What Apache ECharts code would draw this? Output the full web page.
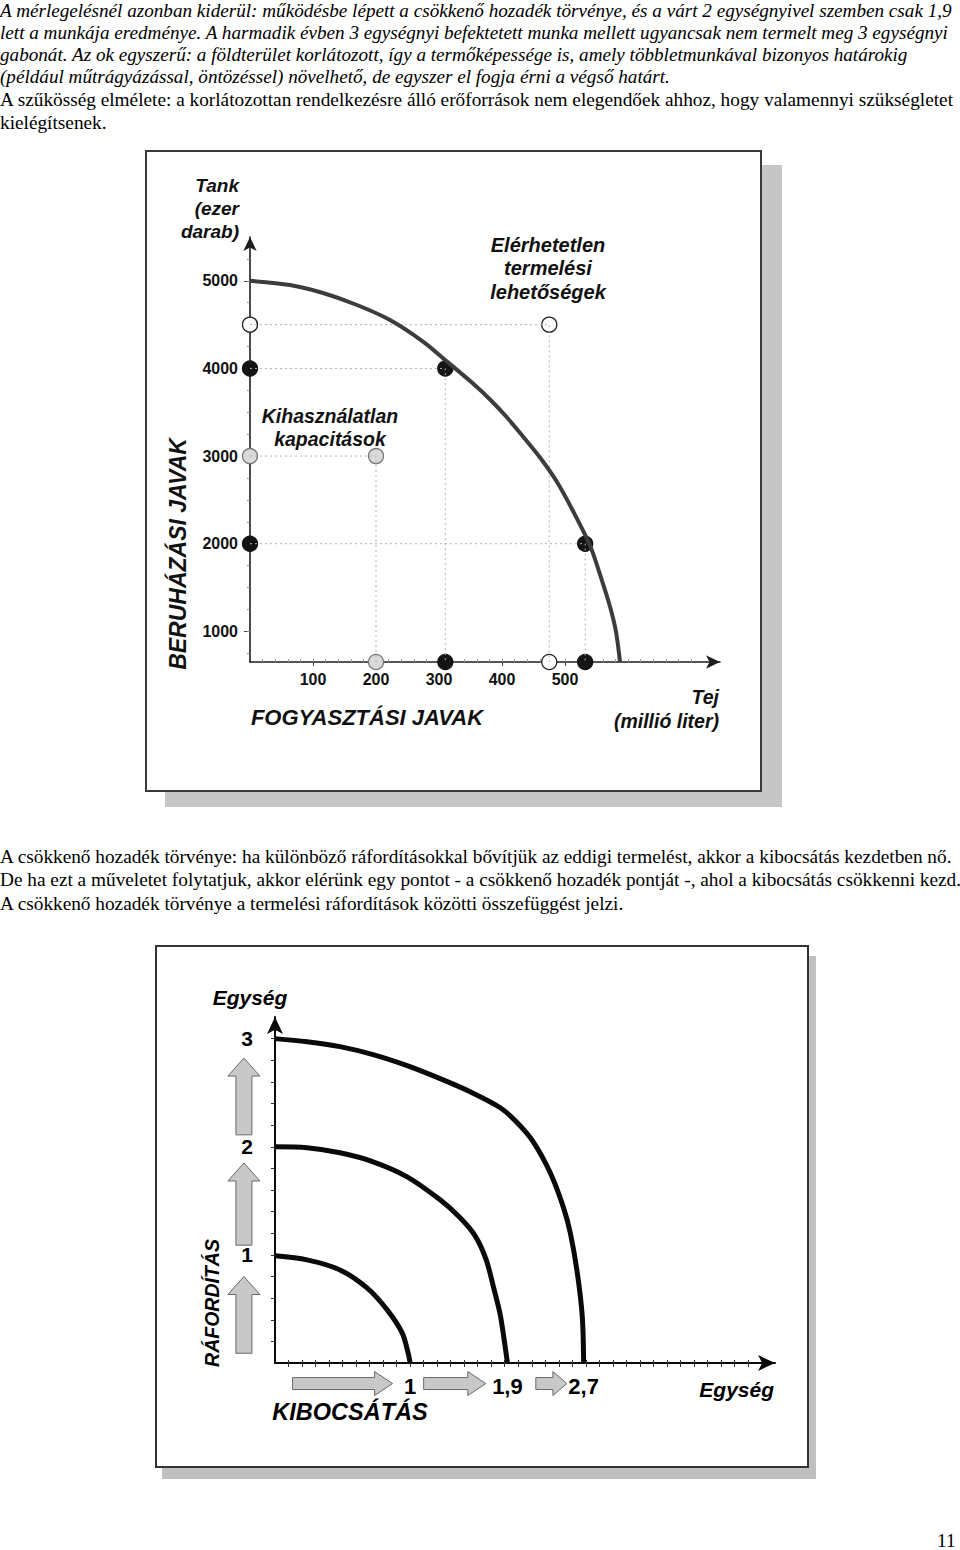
<!DOCTYPE html>
<html>
<head>
<meta charset="utf-8">
<script src="https://cdn.jsdelivr.net/npm/echarts@6/dist/echarts.min.js"></script>
<style>
  html, body { margin: 0; padding: 0; background: #fff; }
  body { width: 960px; height: 1550px; position: relative; overflow: hidden; }
  .sor { position: absolute; left: 0; white-space: pre; font-family: 'Liberation Serif', 'Times New Roman', serif; font-size: 19.3px; color: #000; }
  .dolt { font-style: italic; font-size: 19.15px; }
  .keret { position: absolute; box-sizing: border-box; background: #fff; }
  #k1 { left: 145px; top: 150px; width: 617px; height: 642px; border: 2px solid #3a3a3a; box-shadow: 20px 15px 0 #c6c6c6; }
  #k2 { left: 155px; top: 945px; width: 654px; height: 523px; border: 2px solid #333; box-shadow: 7px 11px 0 #c0c0c0; }
  #abra { position: absolute; left: 0; top: 0; width: 960px; height: 1550px; }
</style>
</head>
<body>
<div class="sor dolt" style="top:0px">A mérlegelésnél azonban kiderül: működésbe lépett a csökkenő hozadék törvénye, és a várt 2 egységnyivel szemben csak 1,9</div>
<div class="sor dolt" style="top:22px">lett a munkája eredménye. A harmadik évben 3 egységnyi befektetett munka mellett ugyancsak nem termelt meg 3 egységnyi</div>
<div class="sor dolt" style="top:44px">gabonát. Az ok egyszerű: a földterület korlátozott, így a termőképessége is, amely többletmunkával bizonyos határokig</div>
<div class="sor dolt" style="top:66px">(például műtrágyázással, öntözéssel) növelhető, de egyszer el fogja érni a végső határt.</div>
<div class="sor" style="top:89px">A szűkösség elmélete: a korlátozottan rendelkezésre álló erőforrások nem elegendőek ahhoz, hogy valamennyi szükségletet</div>
<div class="sor" style="top:112px">kielégítsenek.</div>
<div class="sor" style="top:846px">A csökkenő hozadék törvénye: ha különböző ráfordításokkal bővítjük az eddigi termelést, akkor a kibocsátás kezdetben nő.</div>
<div class="sor" style="top:869px">De ha ezt a műveletet folytatjuk, akkor elérünk egy pontot - a csökkenő hozadék pontját -, ahol a kibocsátás csökkenni kezd.</div>
<div class="sor" style="top:893px">A csökkenő hozadék törvénye a termelési ráfordítások közötti összefüggést jelzi.</div>
<div class="sor" style="top:1530px;left:937px">11</div>

<div class="keret" id="k1"></div>
<div class="keret" id="k2"></div>
<div id="abra"></div>

<script>
// 1. ábra: termelési lehetőségek görbéje
const tejCimkek = [100, 200, 300, 400, 500]
const tankCimkek = [1000, 2000, 3000, 4000, 5000]
const tejMin = 0
const tejMax = 746
const tankMin = 650 // itt fut a vízszintes tengely
const tankMax = 5500
const gorbe = [[0, 5000], [63.5, 4952], [115.9, 4861], [169.8, 4724], [222.2, 4553], [274.6, 4307], [312.7, 4079],
  [354, 3828], [381, 3646], [408, 3440], [433.3, 3223], [460.3, 2983], [487.3, 2704], [512.7, 2373], [539.7, 1979],
  [555.6, 1648], [571.4, 1283], [581, 992], [587.3, 650]]
const feherPontok = [[0, 4500], [475, 4500], [475, 650]]
const feketePontok = [[0, 4000], [310, 4000], [310, 650], [0, 2000], [532, 2000], [532, 650]]
const szurkePontok = [[0, 3000], [200, 3000], [200, 650]]
// segédvonalak: a tengelyeken kívüli pontokból
const segedPontok = [[475, 4500], [310, 4000], [200, 3000], [532, 2000]]

// 2. ábra: csökkenő hozadék
const raforditas = [1, 2, 3]
const kibocsatasHely = [1, 1.72, 2.284]
const kibocsatasCimkek = ['1', '1,9', '2,7']
const gorbe1 = [[0, 0.991], [0.237, 0.954], [0.481, 0.861], [0.681, 0.694], [0.830, 0.491], [0.941, 0.278], [0.985, 0.093], [1.0, 0]]
const gorbe2 = [[0, 2.0], [0.237, 1.991], [0.481, 1.944], [0.726, 1.861], [0.978, 1.722], [1.222, 1.509], [1.370, 1.343],
  [1.481, 1.176], [1.563, 0.954], [1.622, 0.676], [1.667, 0.444], [1.696, 0.213], [1.72, 0]]
const gorbe3 = [[0, 3.0], [0.237, 2.972], [0.481, 2.926], [0.726, 2.852], [0.978, 2.75], [1.222, 2.63], [1.444, 2.509],
  [1.667, 2.361], [1.793, 2.222], [1.911, 2.046], [2.037, 1.759], [2.133, 1.444], [2.185, 1.204], [2.237, 0.833],
  [2.274, 0.426], [2.284, 0]]
const felNyilak = [[-0.23, 0.09, 0.80], [-0.23, 1.09, 1.85], [-0.23, 2.11, 2.82]]
const jobbraNyilak = [[0.13, 0.87, -0.19], [1.10, 1.56, -0.19], [1.93, 2.16, -0.19]]

const betu = 'Liberation Sans, Arial, sans-serif'

function lepesek (tol, ig, lepes) {
  let v = []
  for (let x = tol; x <= ig + 1e-9; x += lepes) {
    v.push(Math.round(x * 1000) / 1000)
  }
  return v
}

function felNyil (params, api) {
  let a = api.coord([api.value(0), api.value(1)])
  let f = api.coord([api.value(0), api.value(2)])
  let x = a[0]
  return {
    type: 'polygon',
    shape: { points: [[x - 8, a[1]], [x - 8, f[1] + 18], [x - 16, f[1] + 18], [x, f[1]], [x + 16, f[1] + 18], [x + 8, f[1] + 18], [x + 8, a[1]]] },
    style: { fill: '#c8c8c8', stroke: '#6a6a6a', lineWidth: 1 }
  }
}

function jobbraNyil (params, api) {
  let a = api.coord([api.value(0), api.value(2)])
  let v = api.coord([api.value(1), api.value(2)])
  let y = a[1]
  let fej = Math.min(18, (v[0] - a[0]) * 0.45)
  return {
    type: 'polygon',
    shape: { points: [[a[0], y - 6], [v[0] - fej, y - 6], [v[0] - fej, y - 12], [v[0], y], [v[0] - fej, y + 12], [v[0] - fej, y + 6], [a[0], y + 6]] },
    style: { fill: '#c8c8c8', stroke: '#6a6a6a', lineWidth: 1 }
  }
}

let series = []
segedPontok.forEach(p => {
  series.push({
    type: 'line', xAxisIndex: 0, yAxisIndex: 0, symbol: 'none', silent: true, clip: false,
    data: [[0, p[1]], p, [p[0], tankMin]],
    lineStyle: { color: '#b0b0b0', width: 1, type: [2, 3] }
  })
})
series.push({
  type: 'line', xAxisIndex: 0, yAxisIndex: 0, symbol: 'none', smooth: 0.3, clip: false,
  data: gorbe,
  lineStyle: { color: '#3c3c3c', width: 4 }
})
const pontStilus = [
  [feherPontok, '#ffffff', '#222222'],
  [feketePontok, '#141414', '#141414'],
  [szurkePontok, '#dadada', '#777777']
]
pontStilus.forEach(s => {
  series.push({
    type: 'scatter', xAxisIndex: 0, yAxisIndex: 0, clip: false, symbolSize: 15,
    data: s[0],
    itemStyle: { color: s[1], borderColor: s[2], borderWidth: 1.3, opacity: 1 }
  })
})
;[gorbe1, gorbe2, gorbe3].forEach(g => {
  series.push({
    type: 'line', xAxisIndex: 2, yAxisIndex: 2, symbol: 'none', smooth: 0.3, clip: false,
    data: g,
    lineStyle: { color: '#0a0a0a', width: 5 }
  })
})
series.push({ type: 'custom', xAxisIndex: 2, yAxisIndex: 2, renderItem: felNyil, data: felNyilak, clip: false })
series.push({ type: 'custom', xAxisIndex: 2, yAxisIndex: 2, renderItem: jobbraNyil, data: jobbraNyilak, clip: false })

const tengely = { color: '#1e1e1e', width: 1.6 }

const option = {
  animation: false,
  grid: [
    { left: 250, top: 237, width: 470, height: 425 },
    { left: 275, top: 1017, width: 500, height: 346 }
  ],
  xAxis: [
    {
      gridIndex: 0, type: 'value', min: tejMin, max: tejMax, position: 'bottom',
      axisLine: { show: true, onZero: false, symbol: ['none', 'arrow'], symbolSize: [10, 14], lineStyle: tengely },
      axisTick: { show: true, customValues: tejCimkek, length: 4, lineStyle: { color: '#444' } },
      axisLabel: { customValues: tejCimkek, margin: 9, color: '#111', fontFamily: betu, fontWeight: 'bold', fontSize: 16, formatter: v => String(v) },
      splitLine: { show: false }
    },
    {
      gridIndex: 0, type: 'value', min: tejMin, max: tejMax, position: 'bottom',
      axisLine: { show: false },
      axisTick: { show: true, inside: true, customValues: lepesek(20, 700, 20), length: 3, lineStyle: { color: '#999' } },
      axisLabel: { show: false },
      splitLine: { show: false }
    },
    {
      gridIndex: 1, type: 'value', min: 0, max: 3.7, position: 'bottom',
      axisLine: { show: true, onZero: false, symbol: ['none', 'arrow'], symbolSize: [12, 17], lineStyle: { color: '#0a0a0a', width: 2 } },
      axisTick: { show: true, customValues: lepesek(0.1, 3.5, 0.1), length: 4, lineStyle: { color: '#333' } },
      axisLabel: {
        customValues: kibocsatasHely, margin: 12, color: '#000', fontFamily: betu, fontWeight: 'bold', fontSize: 22,
        formatter: v => kibocsatasCimkek[kibocsatasHely.indexOf(v)]
      },
      splitLine: { show: false }
    },
    {
      gridIndex: 1, type: 'value', min: 0, max: 3.7, position: 'bottom',
      axisLine: { show: false },
      axisTick: { show: true, inside: true, customValues: lepesek(0.1, 3.5, 0.1), length: 3, lineStyle: { color: '#333' } },
      axisLabel: { show: false },
      splitLine: { show: false }
    }
  ],
  yAxis: [
    {
      gridIndex: 0, type: 'value', min: tankMin, max: tankMax, position: 'left',
      axisLine: { show: true, onZero: false, symbol: ['none', 'arrow'], symbolSize: [10, 14], lineStyle: tengely },
      axisTick: { show: true, customValues: tankCimkek, length: 6, lineStyle: { color: '#444' } },
      axisLabel: { customValues: tankCimkek, margin: 12, color: '#111', fontFamily: betu, fontWeight: 'bold', fontSize: 16, formatter: v => String(v) },
      splitLine: { show: false }
    },
    {
      gridIndex: 0, type: 'value', min: tankMin, max: tankMax, position: 'left',
      axisLine: { show: false },
      axisTick: { show: true, customValues: lepesek(750, 5250, 250), length: 3, lineStyle: { color: '#888' } },
      axisLabel: { show: false },
      splitLine: { show: false }
    },
    {
      gridIndex: 1, type: 'value', min: 0, max: 3.2, position: 'left',
      axisLine: { show: true, onZero: false, symbol: ['none', 'arrow'], symbolSize: [12, 17], lineStyle: { color: '#0a0a0a', width: 2 } },
      axisTick: { show: true, customValues: lepesek(0.2, 3.0, 0.2), length: 4, lineStyle: { color: '#333' } },
      axisLabel: { customValues: raforditas, margin: 22, color: '#000', fontFamily: betu, fontWeight: 'bold', fontSize: 21 },
      splitLine: { show: false }
    }
  ],
  graphic: [
    { type: 'text', x: 239, y: 174, style: { text: 'Tank\n(ezer\ndarab)', align: 'right', lineHeight: 23, font: 'italic bold 19px ' + betu, fill: '#111' } },
    { type: 'text', x: 548, y: 233, style: { text: 'Elérhetetlen\ntermelési\nlehetőségek', align: 'center', lineHeight: 23.5, font: 'italic bold 20px ' + betu, fill: '#111' } },
    { type: 'text', x: 330, y: 404, style: { text: 'Kihasználatlan\nkapacitások', align: 'center', lineHeight: 23, font: 'italic bold 19.5px ' + betu, fill: '#111' } },
    { type: 'text', x: 178, y: 554, rotation: Math.PI / 2, style: { text: 'BERUHÁZÁSI JAVAK', align: 'center', verticalAlign: 'middle', font: 'italic bold 23px ' + betu, fill: '#111' } },
    { type: 'text', x: 367, y: 717, style: { text: 'FOGYASZTÁSI JAVAK', align: 'center', verticalAlign: 'middle', font: 'italic bold 22px ' + betu, fill: '#111' } },
    { type: 'text', x: 719, y: 685, style: { text: 'Tej\n(millió liter)', align: 'right', lineHeight: 24, font: 'italic bold 19.5px ' + betu, fill: '#111' } },
    { type: 'text', x: 250, y: 997, style: { text: 'Egység', align: 'center', verticalAlign: 'middle', font: 'italic bold 21px ' + betu, fill: '#000' } },
    { type: 'text', x: 774, y: 1389, style: { text: 'Egység', align: 'right', verticalAlign: 'middle', font: 'italic bold 21px ' + betu, fill: '#000' } },
    { type: 'text', x: 212, y: 1303, rotation: Math.PI / 2, style: { text: 'RÁFORDÍTÁS', align: 'center', verticalAlign: 'middle', font: 'italic bold 19.5px ' + betu, fill: '#000' } },
    { type: 'text', x: 350, y: 1412, style: { text: 'KIBOCSÁTÁS', align: 'center', verticalAlign: 'middle', font: 'italic bold 23.5px ' + betu, fill: '#000' } }
  ],
  series: series
}

const abra = echarts.init(document.getElementById('abra'), null, { renderer: 'svg' })
abra.setOption(option)
</script>
</body>
</html>
